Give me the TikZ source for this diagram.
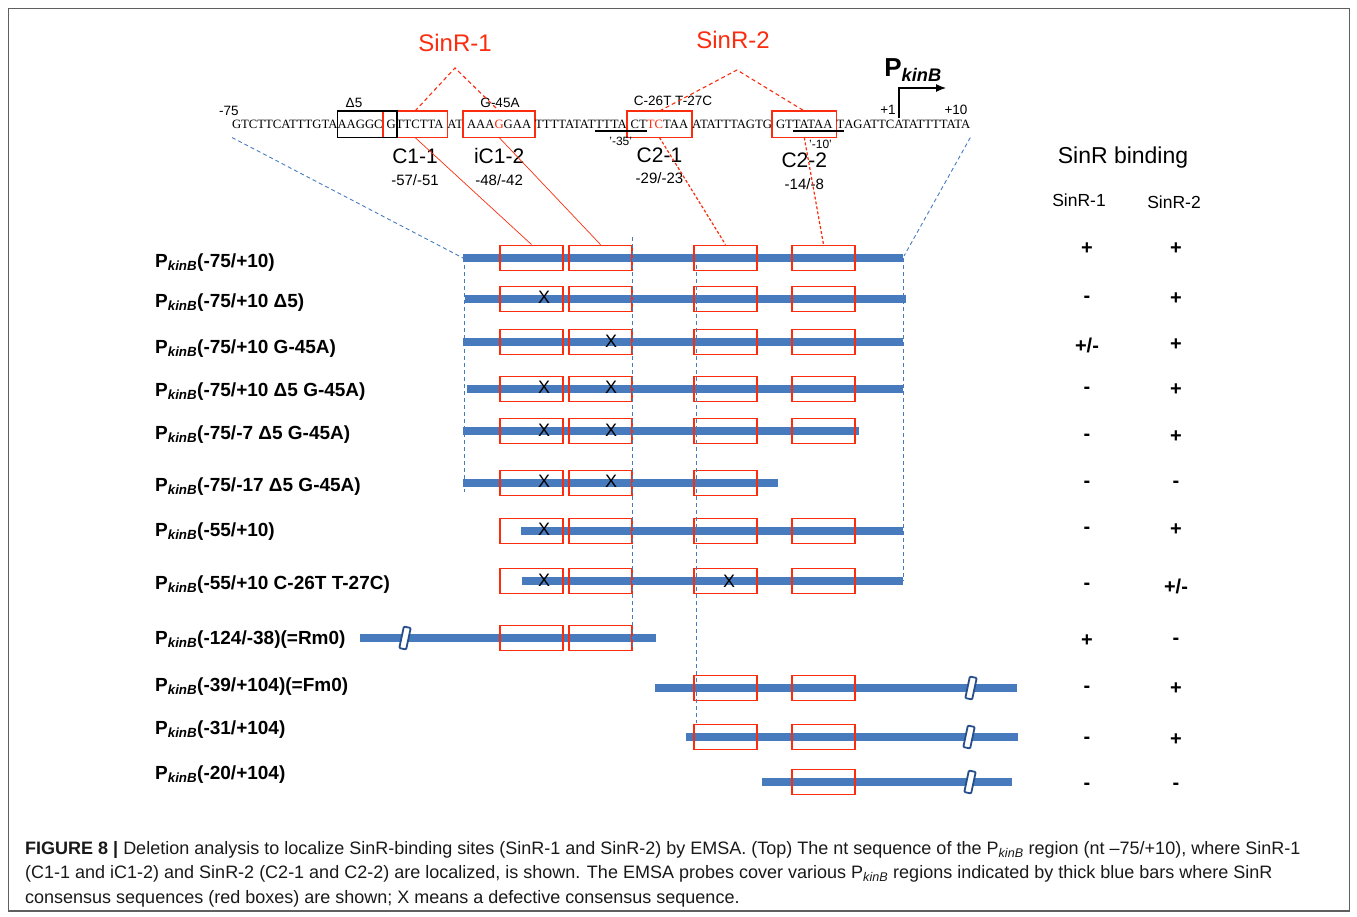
\documentclass[tikz,border=0pt]{standalone}
\usepackage{fontspec}
\setmainfont{Liberation Sans}
\newfontfamily\seqfont{Liberation Serif}
\usetikzlibrary{arrows.meta,positioning,calc}
\definecolor{barblue}{RGB}{72,122,190}
\definecolor{boxred}{RGB}{250,45,15}
\definecolor{brkblue}{RGB}{38,78,138}
\definecolor{framegray}{RGB}{95,95,95}
\newcommand{\fsz}[1]{\fontsize{#1}{#1}\selectfont}
\newcommand{\Pk}{P\textsubscript{\textit{kinB}}}

\begin{document}
\begin{tikzpicture}[x=1pt,y=-1pt,
    seq/.style={font=\seqfont\fsz{12.7},inner xsep=0pt,inner ysep=7pt,text height=10pt,text depth=2.5pt,outer sep=0pt},
    site/.style={seq,draw=boxred,line width=1.9pt,inner xsep=4pt},
    dbox/.style={draw=black,line width=1.7pt},
    uline/.style={line width=1.6pt},
    smalltxt/.style={font=\fsz{13.5}},
    sitename/.style={font=\fsz{21}},
    sitepos/.style={font=\fsz{15}},
    sinr/.style={font=\fsz{24},text=boxred},
    apex/.style={boxred,line width=1.1pt,dash pattern=on 4pt off 3pt},
    cline/.style={boxred,line width=0.7pt},
    dline/.style={boxred,line width=1.2pt,dash pattern=on 3pt off 2pt},
    guide/.style={barblue,line width=0.9pt,dash pattern=on 4pt off 3pt},
    bar/.style={barblue,line width=8pt},
    probe/.style={draw=boxred,line width=1.9pt,minimum width=63pt,minimum height=25pt,inner sep=0pt},
    defect/.style={font=\fsz{18}},
    brk/.style={draw=brkblue,fill=white,line width=1.8pt,minimum width=7pt,minimum height=22pt,inner sep=0pt,rounded corners=1pt,rotate=-12},
    probename/.style={font=\bfseries\fsz{19},anchor=base west,inner sep=0pt},
    bind/.style={font=\bfseries\fsz{20}},
    head/.style={font=\fsz{17.5}},
    tsarrow/.style={-{Latex[length=10pt,width=8pt]},line width=1.2pt}
]
\useasboundingbox (0,0) rectangle (1357,916);
\draw[framegray,line width=1.4pt] (8.5,8.5) rectangle (1349.5,911);

\node[seq,anchor=west] (s1) at (232,124.25) {GTCTTCATTTGTA};
\node[seq,right=0pt of s1] (d5) {AAGGC};
\node[site,right=0pt of d5] (c11) {GTTCTTA};
\node[seq,right=0pt of c11] (s2) {AT};
\node[site,right=0pt of s2] (ic12) {AAA\textcolor{boxred}{G}GAA};
\node[seq,right=0pt of ic12] (s3) {TTTTATAT};
\node[seq,right=0pt of s3] (s4) {TTTA};
\node[site,right=0pt of s4] (c21) {CT\textcolor{boxred}{TC}TAA};
\node[seq,right=0pt of c21] (s5) {ATATTTAGTG};
\node[site,right=0pt of s5] (c22) {GTTATAA};
\node[seq,right=0pt of c22] (s6) {T};
\node[seq,right=0pt of s6] (s7) {AGATTCATATTTTATA};
\draw[dbox] (d5.north west) rectangle ($(c11.south west)+(14,0)$);
\draw[uline] ($(s4.base west)+(0,3)$) -- ($(c21.base west)+(20.2,3)$);
\draw[uline] ($(c22.base west)+(20.9,3)$) -- ($(s6.base east)+(0,3)$);

\node[smalltxt] (m75) at (229,111) {-75};
\node[smalltxt] (dl) at (354,103) {Δ5};
\node[smalltxt] (gl) at (500,103) {G-45A};
\node[smalltxt] (ml) at (673,101) {C-26T T-27C};
\node[smalltxt] (p1) at (888,110) {+1};
\node[smalltxt] (p10) at (956,110) {+10};
\node[font=\fsz{12}] (m35) at ($(s4.south east)+(-6,4)$) {'-35'};
\node[font=\fsz{12}] (m10) at ($(c22.south east)+(-16,7)$) {'-10'};
\node[font=\bfseries\fsz{26}] (pk) at (913,70) {\Pk};
\coordinate (tss) at (899,118);
\coordinate (tsd) at (946,88);
\draw[tsarrow] (tss) |- (tsd);

\node[sitename] (n11) at ($(c11.south)+(0,18.5)$) {C1-1};
\node[sitepos] (q11) at ($(c11.south)+(0,42.5)$) {-57/-51};
\node[sitename] (n12) at ($(ic12.south)+(0,18.5)$) {iC1-2};
\node[sitepos] (q12) at ($(ic12.south)+(0,42.5)$) {-48/-42};
\node[sitename] (n21) at ($(c21.south)+(0,17.5)$) {C2-1};
\node[sitepos] (q21) at ($(c21.south)+(0,40.5)$) {-29/-23};
\node[sitename] (n22) at ($(c22.south)+(0,22.5)$) {C2-2};
\node[sitepos] (q22) at ($(c22.south)+(0,46.5)$) {-14/-8};

\node[sinr] (l1) at (455,43) {SinR-1};
\node[sinr] (l2) at (733,40) {SinR-2};
\coordinate (t1) at (455,68);
\coordinate (t2) at (737,70);

\foreach \i/\y/\xa/\xb/\cols in {
    1/258/463/903/{1,2,3,4},
    2/299/465/906/{1,2,3,4},
    3/342/463/903/{1,2,3,4},
    4/389/467/903/{1,2,3,4},
    5/431/463/859/{1,2,3,4},
    6/483/463/778/{1,2,3},
    7/531/521/903/{1,2,3,4},
    8/581/522/903/{1,2,3,4},
    9/638/360/656/{1,2},
    10/688/655/1017/{3,4},
    11/737/686/1018/{3,4},
    12/782/762/1012/{4}}
{
    \draw[bar] (\xa,\y) -- (\xb,\y);
    \foreach \j in \cols {
        \pgfmathsetmacro{\bx}{{531.5,600.5,725.5,823.5}[\j-1]}
        \node[probe] (b\i-\j) at (\bx,\y) {};
    }
}
\foreach \i/\x/\y in {9/405/638,10/971/688,11/969/737,12/970/782}
    \node[brk] (k\i) at (\x,\y) {};
\foreach \i/\j/\x/\y in {2/1/544/297,3/2/611/341,4/1/544/387,4/2/611/387,5/1/544/430,5/2/611/430,
    6/1/544/481,6/2/611/481,7/1/544/529,8/1/544/580,8/3/729/581}
    \node[defect] (x\i-\j) at (\x,\y) {X};

\coordinate (r1a) at (463,258);
\coordinate (r1b) at (904,256);
\draw[guide] (s1.south west) -- (r1a);
\draw[guide] (s7.south east) -- (r1b);
\draw[guide] (464,258) -- (464,492);
\draw[guide] (632,237) -- (632,650);
\draw[guide] (696,258) -- (696,723);
\draw[guide] (903,258) -- (903,581);

\draw[apex] (c11.north) -- (t1) -- (ic12.north);
\draw[apex] (c21.north) -- (t2) -- (c22.north);
\draw[cline] (c11.south) -- (b1-1.north);
\draw[cline] (ic12.south) -- (b1-2.north);
\draw[dline] (c21.south) -- (b1-3.north);
\draw[dline] (c22.south) -- (b1-4.north);

\foreach \i/\y/\txt in {1/260/{(-75/+10)},2/300/{(-75/+10 Δ5)},3/346/{(-75/+10 G-45A)},
    4/389/{(-75/+10 Δ5 G-45A)},5/432/{(-75/-7 Δ5 G-45A)},6/484/{(-75/-17 Δ5 G-45A)},
    7/529/{(-55/+10)},8/582/{(-55/+10 C-26T T-27C)},9/637/{(-124/-38)(=Rm0)},
    10/684/{(-39/+104)(=Fm0)},11/727/{(-31/+104)},12/772/{(-20/+104)}}
    \node[probename] (n\i) at (155,\y+7) {\Pk\txt};

\node[font=\fsz{23}] (hb) at (1123,158) {SinR binding};
\node[head] (h1) at (1079,200) {SinR-1};
\node[head] (h2) at (1174,202) {SinR-2};
\foreach \i/\y/\a/\b in {1/249/+/+,2/299/-/+,3/345/{+/-}/+,4/390/-/+,5/437/-/+,6/484/-/-,
    7/530/-/+,8/586/-/{+/-},9/641/+/-,10/689/-/+,11/740/-/+,12/786/-/-}
{
    \node[bind] (sa\i) at (1087,\y) {\a};
    \node[bind] (sb\i) at (1176,\y) {\b};
}

\node[anchor=base west,align=left,inner sep=0pt,text=black!90,font=\fontsize{18}{24.5}\selectfont] (cap) at (25,903)
    {\textbf{FIGURE 8 |} Deletion analysis to localize SinR-binding sites (SinR-1 and SinR-2) by EMSA. (Top) The nt sequence of the \Pk{} region (nt –75/+10), where SinR-1\\
    (C1-1 and iC1-2) and SinR-2 (C2-1 and C2-2) are localized, is shown. The EMSA probes cover various \Pk{} regions indicated by thick blue bars where SinR\\
    consensus sequences (red boxes) are shown; X means a defective consensus sequence.};
\end{tikzpicture}
\end{document}
